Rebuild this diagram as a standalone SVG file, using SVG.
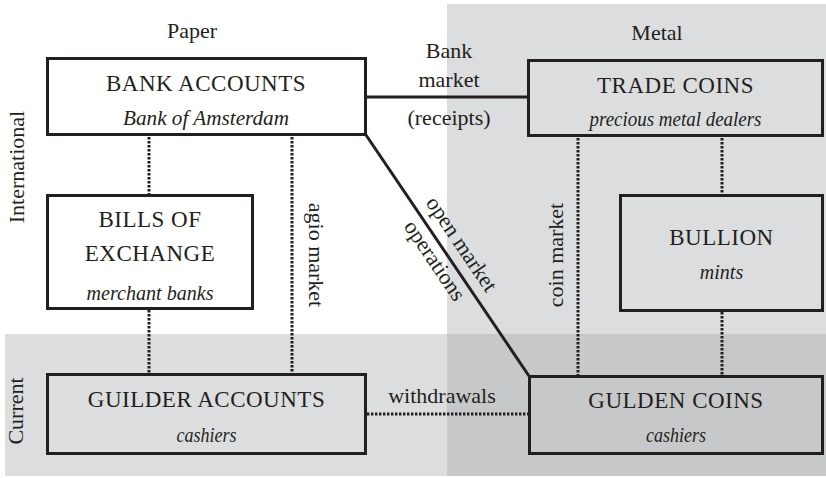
<svg xmlns="http://www.w3.org/2000/svg" width="826" height="478" viewBox="0 0 826 478" font-family="'Liberation Serif', 'Times New Roman', serif">
<style>
text{font-family:'Liberation Serif','Times New Roman',serif;fill:#231f20;text-anchor:middle}
.t{font-size:23px;letter-spacing:0.5px}
.i{font-size:20px;font-style:italic}
.l{font-size:22px}
.box{stroke:#231f20;stroke-width:3}
.w{fill:#ffffff}
.g1{fill:#dcdddf}
.g2{fill:#c7c8ca}
.solid{stroke:#231f20;stroke-width:3;fill:none}
.dot{stroke:#231f20;stroke-width:3;fill:none;stroke-dasharray:2.4 1.6}
</style>
<g id="background">
<rect x="447" y="4" width="379" height="472" class="g1"/>
<rect x="5" y="334" width="821" height="142" class="g1"/>
<rect x="447" y="334" width="379" height="142" class="g2"/>
</g>
<g id="axis-labels">
<text class="l" x="192" y="38">Paper</text>
<text class="l" x="657" y="40">Metal</text>
<text class="l" transform="translate(24,167) rotate(-90)">International</text>
<text class="l" transform="translate(23,411) rotate(-90)">Current</text>
</g>
<g id="connectors">
<line class="solid" x1="366" y1="97" x2="529" y2="97"/>
<line class="solid" x1="366" y1="135" x2="529" y2="376"/>
<line class="dot" x1="149" y1="137" x2="149" y2="195"/>
<line class="dot" x1="149" y1="310" x2="149" y2="373"/>
<line class="dot" x1="292" y1="137" x2="292" y2="373"/>
<line class="dot" x1="578" y1="138" x2="578" y2="375"/>
<line class="dot" x1="722" y1="138" x2="722" y2="195"/>
<line class="dot" x1="722" y1="312" x2="722" y2="375"/>
<line class="dot" x1="367" y1="414" x2="528" y2="414"/>
<text class="l" x="449" y="58">Bank</text>
<text class="l" x="449" y="87">market</text>
<text class="l" x="449" y="125">(receipts)</text>
<text class="l" transform="translate(309,255) rotate(90)">agio market</text>
<text class="l" transform="translate(563,255) rotate(-90)">coin market</text>
<text class="l" transform="translate(455.8,248.2) rotate(56)">open market</text>
<text class="l" transform="translate(428.8,264.5) rotate(56)">operations</text>
<text class="l" x="442" y="403">withdrawals</text>
</g>
<g id="bank-accounts">
<rect class="box w" x="47.5" y="58.5" width="318" height="76"/>
<text class="t" x="206" y="91">BANK ACCOUNTS</text>
<text class="i" x="206" y="125" textLength="166" lengthAdjust="spacingAndGlyphs">Bank of Amsterdam</text>
</g>
<g id="trade-coins">
<rect class="box g1" x="528.5" y="60.5" width="294" height="75"/>
<text class="t" x="675.5" y="93">TRADE COINS</text>
<text class="i" x="675.5" y="126" textLength="172" lengthAdjust="spacingAndGlyphs">precious metal dealers</text>
</g>
<g id="bills-of-exchange">
<rect class="box w" x="47.5" y="195.5" width="205" height="113"/>
<text class="t" x="150" y="227">BILLS OF</text>
<text class="t" x="150" y="261">EXCHANGE</text>
<text class="i" x="150" y="300" textLength="127" lengthAdjust="spacingAndGlyphs">merchant banks</text>
</g>
<g id="bullion">
<rect class="box g1" x="620.5" y="195.5" width="202" height="115"/>
<text class="t" x="721.5" y="245">BULLION</text>
<text class="i" x="721.5" y="279">mints</text>
</g>
<g id="guilder-accounts">
<rect class="box g1" x="47.5" y="374.5" width="318" height="79"/>
<text class="t" x="206.5" y="407">GUILDER ACCOUNTS</text>
<text class="i" x="206.5" y="442" textLength="60" lengthAdjust="spacingAndGlyphs">cashiers</text>
</g>
<g id="gulden-coins">
<rect class="box g2" x="529.5" y="376.5" width="293" height="77"/>
<text class="t" x="676" y="408">GULDEN COINS</text>
<text class="i" x="676" y="442" textLength="60" lengthAdjust="spacingAndGlyphs">cashiers</text>
</g>
</svg>
